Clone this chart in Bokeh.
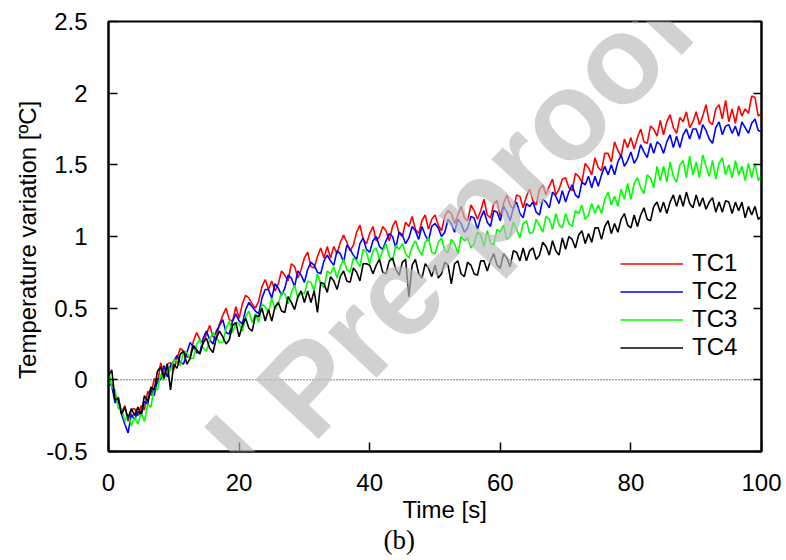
from bokeh.plotting import figure
from bokeh.models import LinearAxis, FixedTicker, Label, Span, Title
from bokeh.embed import file_html
from bokeh.resources import INLINE

FONT = "Liberation Sans"

# ---------------- data ----------------
time_s = [i / 2 for i in range(201)]  # sampling times 0, 0.5, ..., 100 s

tc1 = [0.00, -0.03, -0.14, -0.12, -0.23, -0.18, -0.29, -0.21, -0.20, -0.25,
       -0.18, -0.21, -0.08, -0.11, 0.01, -0.03, 0.12, 0.03, 0.11, 0.12,
       0.07, 0.15, 0.22, 0.20, 0.16, 0.16, 0.27, 0.33, 0.28, 0.25,
       0.32, 0.38, 0.30, 0.29, 0.39, 0.45, 0.50, 0.42, 0.41, 0.51,
       0.43, 0.53, 0.59, 0.57, 0.53, 0.50, 0.55, 0.65, 0.70, 0.63,
       0.69, 0.62, 0.67, 0.76, 0.73, 0.69, 0.81, 0.79, 0.71, 0.77,
       0.85, 0.89, 0.79, 0.78, 0.86, 0.92, 0.85, 0.93, 0.85, 0.93,
       0.88, 0.96, 1.01, 0.96, 0.90, 0.94, 1.03, 1.08, 0.98, 0.95,
       1.02, 1.07, 0.97, 1.00, 1.07, 1.04, 0.97, 1.07, 1.11, 1.02,
       1.00, 1.10, 1.07, 1.14, 1.05, 1.02, 1.11, 1.15, 1.05, 1.12,
       1.15, 1.08, 1.04, 1.14, 1.18, 1.16, 1.09, 1.15, 1.21, 1.13,
       1.11, 1.22, 1.18, 1.12, 1.18, 1.26, 1.15, 1.13, 1.23, 1.25,
       1.14, 1.23, 1.29, 1.22, 1.19, 1.29, 1.28, 1.20, 1.28, 1.33,
       1.25, 1.22, 1.33, 1.36, 1.29, 1.35, 1.40, 1.29, 1.33, 1.40,
       1.41, 1.34, 1.32, 1.44, 1.42, 1.38, 1.51, 1.48, 1.43, 1.55,
       1.48, 1.46, 1.58, 1.58, 1.52, 1.66, 1.60, 1.56, 1.68, 1.62,
       1.69, 1.61, 1.69, 1.75, 1.66, 1.65, 1.77, 1.75, 1.70, 1.81,
       1.71, 1.80, 1.85, 1.76, 1.72, 1.83, 1.80, 1.87, 1.76, 1.80,
       1.87, 1.78, 1.84, 1.92, 1.80, 1.78, 1.89, 1.92, 1.82, 1.95,
       1.80, 1.89, 1.79, 1.91, 1.84, 1.89, 1.86, 1.98, 1.97, 1.84, 1.86]

tc2 = [-0.03, -0.04, -0.16, -0.14, -0.24, -0.31, -0.37, -0.24, -0.28, -0.22,
       -0.25, -0.15, -0.17, -0.06, -0.11, 0.01, 0.00, 0.10, 0.02, 0.10,
       0.13, 0.17, 0.12, 0.11, 0.19, 0.26, 0.23, 0.19, 0.19, 0.29,
       0.34, 0.28, 0.25, 0.34, 0.38, 0.42, 0.33, 0.32, 0.41, 0.46,
       0.41, 0.39, 0.49, 0.54, 0.51, 0.48, 0.46, 0.57, 0.63, 0.63,
       0.57, 0.67, 0.64, 0.59, 0.64, 0.73, 0.71, 0.65, 0.76, 0.73,
       0.68, 0.77, 0.82, 0.80, 0.75, 0.74, 0.83, 0.87, 0.83, 0.80,
       0.90, 0.88, 0.82, 0.94, 0.91, 0.87, 0.84, 0.95, 0.99, 0.91,
       0.89, 0.97, 1.00, 0.93, 0.91, 0.97, 1.02, 1.00, 0.92, 1.03,
       1.01, 0.95, 0.99, 1.07, 1.04, 0.98, 1.07, 1.01, 0.97, 1.07,
       1.09, 1.06, 1.00, 1.03, 1.12, 1.09, 1.03, 1.12, 1.09, 1.03,
       1.06, 1.14, 1.13, 1.05, 1.13, 1.18, 1.10, 1.07, 1.18, 1.17,
       1.11, 1.21, 1.17, 1.11, 1.20, 1.24, 1.16, 1.13, 1.23, 1.21,
       1.24, 1.17, 1.15, 1.26, 1.24, 1.20, 1.31, 1.28, 1.23, 1.32,
       1.24, 1.31, 1.36, 1.29, 1.27, 1.38, 1.36, 1.42, 1.34, 1.42,
       1.35, 1.43, 1.49, 1.43, 1.50, 1.43, 1.52, 1.57, 1.49, 1.53,
       1.59, 1.51, 1.55, 1.64, 1.59, 1.55, 1.65, 1.58, 1.66, 1.64,
       1.58, 1.66, 1.71, 1.62, 1.70, 1.62, 1.71, 1.75, 1.68, 1.75,
       1.75, 1.68, 1.78, 1.74, 1.68, 1.65, 1.76, 1.80, 1.71, 1.77,
       1.78, 1.72, 1.77, 1.70, 1.80, 1.76, 1.72, 1.79, 1.82, 1.74, 1.73]

tc3 = [0.07, -0.05, -0.07, -0.20, -0.20, -0.29, -0.24, -0.32, -0.26, -0.31,
       -0.23, -0.29, -0.17, -0.19, -0.05, -0.07, 0.04, 0.00, 0.10, 0.06,
       0.14, 0.13, 0.10, 0.20, 0.19, 0.15, 0.15, 0.25, 0.28, 0.22,
       0.20, 0.28, 0.33, 0.30, 0.26, 0.26, 0.36, 0.41, 0.33, 0.40,
       0.39, 0.34, 0.44, 0.48, 0.40, 0.46, 0.40, 0.53, 0.51, 0.47,
       0.57, 0.49, 0.53, 0.61, 0.60, 0.53, 0.61, 0.66, 0.57, 0.61,
       0.60, 0.69, 0.68, 0.62, 0.74, 0.67, 0.64, 0.76, 0.74, 0.79,
       0.71, 0.79, 0.84, 0.77, 0.75, 0.85, 0.83, 0.79, 0.91, 0.89,
       0.81, 0.90, 0.92, 0.84, 0.90, 0.95, 0.86, 0.83, 0.94, 0.91,
       0.95, 0.88, 0.85, 0.93, 0.97, 0.91, 0.87, 0.96, 0.99, 0.89,
       0.88, 0.96, 0.99, 0.90, 0.89, 0.98, 0.95, 0.88, 1.00, 0.97,
       0.99, 0.92, 0.95, 1.03, 1.01, 0.93, 1.04, 0.96, 0.94, 1.05,
       1.03, 1.08, 0.98, 1.00, 1.10, 1.05, 0.99, 1.09, 1.11, 1.02,
       1.03, 1.12, 1.08, 1.03, 1.14, 1.12, 1.05, 1.16, 1.08, 1.06,
       1.16, 1.09, 1.07, 1.18, 1.16, 1.22, 1.12, 1.15, 1.23, 1.16,
       1.22, 1.16, 1.26, 1.31, 1.22, 1.28, 1.21, 1.33, 1.26, 1.37,
       1.26, 1.37, 1.41, 1.34, 1.30, 1.43, 1.41, 1.34, 1.49, 1.39,
       1.49, 1.38, 1.52, 1.42, 1.38, 1.50, 1.53, 1.41, 1.56, 1.43,
       1.52, 1.41, 1.57, 1.49, 1.42, 1.53, 1.40, 1.51, 1.55, 1.43,
       1.50, 1.41, 1.53, 1.43, 1.49, 1.39, 1.51, 1.41, 1.51, 1.39, 1.43]

tc4 = [0.03, 0.07, -0.14, -0.13, -0.24, -0.19, -0.27, -0.20, -0.25, -0.19,
       -0.24, -0.11, -0.15, -0.05, -0.07, 0.06, 0.09, 0.01, 0.11, -0.07,
       0.11, 0.08, 0.18, 0.20, 0.11, 0.15, 0.24, 0.21, 0.18, 0.26,
       0.29, 0.22, 0.19, 0.29, 0.34, 0.30, 0.25, 0.28, 0.38, 0.40,
       0.30, 0.38, 0.43, 0.36, 0.34, 0.45, 0.44, 0.50, 0.41, 0.49,
       0.41, 0.51, 0.54, 0.48, 0.47, 0.58, 0.54, 0.49, 0.58, 0.62,
       0.54, 0.62, 0.54, 0.62, 0.47, 0.68, 0.67, 0.61, 0.72, 0.69,
       0.63, 0.72, 0.76, 0.69, 0.68, 0.78, 0.75, 0.69, 0.81, 0.81,
       0.80, 0.74, 0.80, 0.84, 0.75, 0.74, 0.83, 0.85, 0.77, 0.73,
       0.82, 0.84, 0.58, 0.80, 0.84, 0.74, 0.71, 0.81, 0.78, 0.72,
       0.80, 0.71, 0.74, 0.82, 0.80, 0.67, 0.81, 0.83, 0.74, 0.72,
       0.82, 0.80, 0.74, 0.73, 0.83, 0.83, 0.76, 0.83, 0.88, 0.80,
       0.78, 0.88, 0.85, 0.79, 0.90, 0.89, 0.83, 0.92, 0.83, 0.90,
       0.92, 0.84, 0.87, 0.96, 0.93, 0.87, 0.97, 0.90, 0.87, 0.99,
       0.91, 1.00, 0.98, 0.92, 1.01, 1.04, 0.95, 1.02, 0.96, 1.06,
       1.06, 0.98, 1.07, 1.11, 1.02, 1.09, 1.03, 1.12, 1.16, 1.08,
       1.06, 1.15, 1.07, 1.15, 1.20, 1.12, 1.11, 1.21, 1.24, 1.17,
       1.24, 1.16, 1.24, 1.29, 1.21, 1.29, 1.21, 1.31, 1.23, 1.20,
       1.29, 1.21, 1.27, 1.19, 1.24, 1.27, 1.17, 1.24, 1.17, 1.25,
       1.24, 1.16, 1.24, 1.18, 1.24, 1.13, 1.21, 1.15, 1.21, 1.12, 1.14]

series_names = ["TC1", "TC2", "TC3", "TC4"]
series_values = [tc1, tc2, tc3, tc4]
series_colors = ["#ff0000", "#0000ff", "#00ff00", "#000000"]

x_ticks = [0, 20, 40, 60, 80, 100]
x_tick_labels = ["0", "20", "40", "60", "80", "100"]
y_ticks = [-0.5, 0, 0.5, 1, 1.5, 2, 2.5]
y_tick_labels = ["-0.5", "0", "0.5", "1", "1.5", "2", "2.5"]

x_title = "Time [s]"
y_title = "Temperature variation  [ºC]"
caption = "(b)"
watermark = "Journal Pre-proof"

# ---------------- figure ----------------
p = figure(width=786, height=560, x_range=(0, 100), y_range=(-0.5, 2.5),
           output_backend="svg", toolbar_location=None,
           min_border_left=108, min_border_right=25,
           min_border_top=21, min_border_bottom=109)
p.xgrid.visible = False
p.ygrid.visible = False
p.outline_line_color = "black"
p.outline_line_width = 2
p.outline_line_alpha = 1.0

# zero reference line
p.add_layout(Span(location=0, dimension="width", line_color="black",
                  line_width=1, line_dash="1 2", level="underlay"))

for name, vals, col in zip(series_names, series_values, series_colors):
    p.line(time_s, vals, line_color=col, line_width=1.6, legend_label=name)

# axes
xa = p.xaxis[0]
ya = p.yaxis[0]
xa.ticker = FixedTicker(ticks=x_ticks)
ya.ticker = FixedTicker(ticks=y_ticks)
xa.major_label_overrides = {t: s for t, s in zip(x_ticks, x_tick_labels)}
ya.major_label_overrides = {t: s for t, s in zip(y_ticks, y_tick_labels)}
for ax in (xa, ya):
    ax.major_tick_in = 9
    ax.major_tick_out = 0
    ax.minor_tick_in = 0
    ax.minor_tick_out = 0
    ax.axis_line_width = 2
    ax.major_tick_line_width = 1.5
    ax.major_label_text_font = FONT
    ax.major_label_text_font_size = "24px"
    ax.major_label_text_color = "black"
    ax.axis_label_text_font = FONT
    ax.axis_label_text_font_size = "24px"
    ax.axis_label_text_font_style = "normal"
    ax.axis_label_text_color = "black"
xa.major_label_standoff = 22
ya.major_label_standoff = 21
ya.axis_label = y_title
ya.axis_label_standoff = 2

ra = LinearAxis(ticker=FixedTicker(ticks=y_ticks), major_label_text_color=None,
                major_label_standoff=0, major_tick_in=8, major_tick_out=0,
                minor_tick_in=0, minor_tick_out=0, axis_line_width=2,
                major_tick_line_width=1.5)
p.add_layout(ra, "right")

# x-axis title and caption, placed in the panel under the axis
xt = Title(text=x_title, align="left", offset=294, standoff=0,
           text_font=FONT, text_font_size="24px",
           text_font_style="normal", text_color="black")
p.add_layout(xt, "below")
cap = Title(text=caption, align="left", offset=275, standoff=0,
            text_font="Liberation Serif", text_font_size="27px",
            text_font_style="normal", text_color="black")
p.add_layout(cap, "below")

# legend
lg = p.legend[0]
lg.location = (512, 90)
lg.margin = 0
lg.padding = 0
lg.spacing = -1
lg.glyph_width = 63
lg.glyph_height = 27
lg.label_height = 27
lg.label_standoff = 9
lg.label_text_font = FONT
lg.label_text_font_size = "24px"
lg.label_text_color = "black"
lg.border_line_color = None
lg.background_fill_alpha = 0

# watermark
p.add_layout(Label(x=307, y=387, x_units="canvas", y_units="canvas",
                   text=watermark, text_align="center",
                   text_baseline="middle", angle=0.8133, angle_units="rad",
                   text_font=FONT, text_font_style="bold",
                   text_font_size="126px",
                   text_color="#bbbbbb", text_alpha=0.68, level="overlay"))

open("out.html", "w").write(file_html(p, INLINE))
